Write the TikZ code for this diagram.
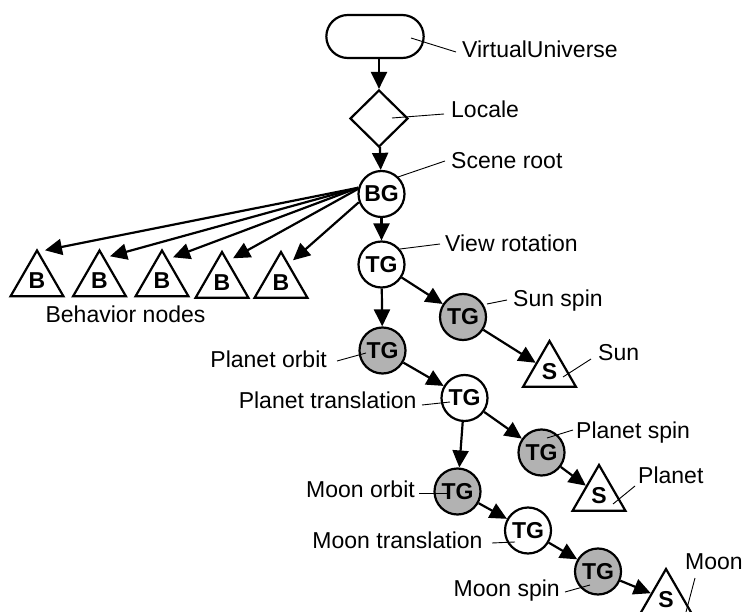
\documentclass[tikz,border=0pt]{standalone}
\usepackage{fontspec}
\setmainfont{Liberation Sans}
\usetikzlibrary{shapes.geometric,shapes.misc,arrows.meta}
\definecolor{tggray}{RGB}{178,178,178}
\begin{document}
\begin{tikzpicture}[x=1pt,y=-1pt,
  txt/.style={font=\fontsize{23}{27}\selectfont},
  grp/.style={circle,draw,line width=2.2pt,minimum size=46pt,inner sep=0pt,font=\fontsize{23}{27}\selectfont\bfseries},
  tgw/.style={grp,fill=white},
  tgg/.style={grp,fill=tggray},
  leaf/.style={regular polygon,regular polygon sides=3,draw,line width=2.2pt,fill=white,minimum size=61pt,inner sep=0pt,font=\fontsize{23}{27}\selectfont\bfseries},
  lbl/.style={txt,inner sep=0pt},
  arr/.style={line width=2.2pt,-{Triangle[length=17pt,width=16pt]}},
  leader/.style={line width=0.9pt}]
\useasboundingbox (0,0) rectangle (744,612);
% structural nodes
\node[rounded rectangle,draw,line width=2.2pt,minimum width=104pt,minimum height=43pt] (VU) at (375,36.5) {};
\node[diamond,draw,line width=2.2pt,minimum width=58pt,minimum height=57pt,inner sep=0pt] (LOC) at (379,118.5) {};
\node[tgw] (BG) at (381.5,194) {BG};
\node[tgw] (VR) at (381.5,264.5) {TG};
\node[tgg] (SS) at (463,317) {TG};
\node[tgg] (PO) at (382.5,350.5) {TG};
\node[tgw] (PT) at (464.5,398) {TG};
\node[tgg] (PS) at (541.5,452.5) {TG};
\node[tgg] (MO) at (457.5,491.5) {TG};
\node[tgw] (MT) at (528,530.5) {TG};
\node[tgg] (MS) at (598,571.5) {TG};
\node[leaf] (B1) at (37,281) {B};
\node[leaf] (B2) at (99.5,281) {B};
\node[leaf] (B3) at (162,281) {B};
\node[leaf] (B4) at (222,282.5) {B};
\node[leaf] (B5) at (281,282.5) {B};
\node[leaf] (SUN) at (549.5,371.5) {S};
\node[leaf] (PLA) at (599,495.5) {S};
\node[leaf] (MOO) at (666,599.5) {S};
% labels
\node[lbl,anchor=base west] (tVU) at (462,57.7) {VirtualUniverse};
\node[lbl,anchor=base west] (tLOC) at (451,118) {Locale};
\node[lbl,anchor=base west] (tBG) at (451,169) {Scene root};
\node[lbl,anchor=base west] (tVR) at (445,252) {View rotation};
\node[lbl,anchor=base west] (tSS) at (513,306) {Sun spin};
\node[lbl,anchor=base west] (tSUN) at (598,360) {Sun};
\node[lbl,anchor=base east] (tPO) at (327,367) {Planet orbit};
\node[lbl,anchor=base east] (tPT) at (416.7,408) {Planet translation};
\node[lbl,anchor=base west] (tPS) at (576,438) {Planet spin};
\node[lbl,anchor=base west] (tPLA) at (638,483) {Planet};
\node[lbl,anchor=base east] (tMO) at (415,497) {Moon orbit};
\node[lbl,anchor=base east] (tMT) at (482.7,548.3) {Moon translation};
\node[lbl,anchor=base east] (tMS) at (560,596) {Moon spin};
\node[lbl,anchor=base west] (tMOO) at (685,569) {Moon};
\node[lbl,anchor=base] (tB) at (125.5,323) {Behavior nodes};
% connectors
\draw[arr] (VU.south -| LOC) -- (LOC.north);
\draw[arr] (LOC) -- (BG);
\draw[arr] (BG) -- (VR);
\draw[arr] (BG.165) -- ([shift={(8,2)}]B1.north);
\draw[arr] (BG.165) -- ([shift={(10.5,8)}]B2.north);
\draw[arr] (BG.165) -- ([shift={(11,9)}]B3.north);
\draw[arr] (BG.168) -- ([shift={(11,8.5)}]B4.north);
\draw[arr] (BG.200) -- ([shift={(12,10.5)}]B5.north);
\draw[arr] (VR) -- (SS);
\draw[arr] (VR) -- (PO);
\draw[arr] (SS) -- (SUN);
\draw[arr] (PO) -- (PT);
\draw[arr] (PT) -- (PS);
\draw[arr] (PT) -- (MO);
\draw[arr] (PS) -- (PLA);
\draw[arr] (MO) -- (MT);
\draw[arr] (MT) -- (MS);
\draw[arr] (MS) -- (MOO);
% leader lines
\coordinate (lVUa) at (411,38);   \coordinate (lVUb) at (456,52);
\coordinate (lLOCa) at (392,118); \coordinate (lLOCb) at (444,114);
\coordinate (lBGa) at (398,177);  \coordinate (lBGb) at (445,161);
\coordinate (lVRa) at (400,249);  \coordinate (lVRb) at (440,244);
\coordinate (lSSa) at (487,304);  \coordinate (lSSb) at (507,300);
\coordinate (lSUNa) at (563,377); \coordinate (lSUNb) at (591,359);
\coordinate (lPOa) at (337,361);  \coordinate (lPOb) at (366,353);
\coordinate (lPTa) at (422,405);  \coordinate (lPTb) at (450,402);
\coordinate (lPSa) at (547,438);  \coordinate (lPSb) at (573,430);
\coordinate (lPLAa) at (613,504); \coordinate (lPLAb) at (635,486);
\coordinate (lMOa) at (419,493);  \coordinate (lMOb) at (447,493);
\coordinate (lMTa) at (492,543);  \coordinate (lMTb) at (515,542);
\coordinate (lMSa) at (565,592);  \coordinate (lMSb) at (590,585);
\coordinate (lMOOa) at (695,578); \coordinate (lMOOb) at (686,612);
\foreach \n in {VU,LOC,BG,VR,SS,SUN,PO,PT,PS,PLA,MO,MT,MS,MOO}
  \draw[leader] (l\n a) -- (l\n b);
\end{tikzpicture}
\end{document}
